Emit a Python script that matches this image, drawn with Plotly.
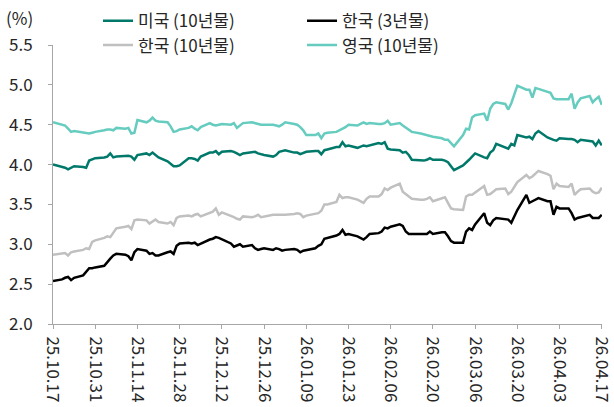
import pandas as pd
import plotly.graph_objects as go

dates = pd.bdate_range("2025-10-17", "2026-04-17")
tick_dates = pd.date_range("2025-10-17", "2026-04-17", freq="14D")

us10 = [4.00,
 3.97,3.96,3.94,3.96,3.98,
 3.97,3.96,4.05,4.07,4.08,
 4.09,4.10,4.14,4.09,4.10,
 4.11,4.11,4.10,4.06,4.12,
 4.14,4.12,4.15,4.12,4.09,
 4.04,4.01,3.98,3.98,3.99,
 4.08,4.08,4.07,4.05,4.10,
 4.15,4.15,4.17,4.13,4.16,
 4.17,4.16,4.14,4.12,4.14,
 4.16,4.16,4.14,4.13,4.12,
 4.10,4.12,4.16,4.17,4.18,
 4.15,4.15,4.13,4.15,4.16,
 4.17,4.17,4.13,4.18,4.19,
 4.22,4.22,4.28,4.23,4.24,
 4.21,4.23,4.24,4.23,4.24,
 4.27,4.26,4.28,4.20,4.19,
 4.18,4.15,4.16,4.12,4.06,
 4.05,4.05,4.06,4.08,4.06,
 4.06,4.05,4.03,3.98,3.93,
 3.99,4.02,4.06,4.10,4.14,
 4.09,4.08,4.15,4.18,4.26,
 4.21,4.20,4.26,4.24,4.37,
 4.34,4.35,4.32,4.39,4.42,
 4.34,4.32,4.31,4.30,4.33,
 4.32,4.32,4.31,4.28,4.31,
 4.30,4.29,4.24,4.30,4.24]

kr3 = [2.54,
 2.56,2.58,2.59,2.55,2.58,
 2.61,2.65,2.70,2.70,2.71,
 2.73,2.78,2.82,2.86,2.88,
 2.87,2.85,2.80,2.90,2.94,
 2.92,2.88,2.89,2.86,2.86,
 2.90,2.91,2.88,2.98,3.01,
 3.02,3.01,3.02,2.99,3.01,
 3.06,3.07,3.09,3.08,3.06,
 3.01,2.97,2.99,3.00,2.97,
 2.99,2.95,2.93,2.94,2.95,
 2.93,2.95,2.94,2.92,2.93,
 2.94,2.93,2.90,2.92,2.93,
 2.95,2.98,3.00,3.07,3.08,
 3.11,3.13,3.18,3.12,3.13,
 3.10,3.08,3.06,3.09,3.13,
 3.14,3.16,3.21,3.20,3.22,
 3.25,3.23,3.16,3.13,3.13,
 3.13,3.13,3.13,3.16,3.13,
 3.15,3.15,3.10,3.04,3.02,
 3.02,3.16,3.20,3.18,3.25,
 3.39,3.27,3.24,3.30,3.33,
 3.31,3.31,3.27,3.35,3.43,
 3.62,3.52,3.54,3.56,3.58,
 3.54,3.54,3.37,3.47,3.45,
 3.45,3.39,3.31,3.33,3.34,
 3.37,3.33,3.33,3.33,3.37]

kr10 = [2.87,
 2.88,2.89,2.86,2.90,2.91,
 2.93,2.95,2.94,3.03,3.05,
 3.08,3.10,3.09,3.15,3.20,
 3.22,3.23,3.19,3.30,3.31,
 3.30,3.26,3.28,3.31,3.28,
 3.26,3.28,3.24,3.33,3.35,
 3.36,3.35,3.37,3.38,3.35,
 3.39,3.41,3.45,3.37,3.40,
 3.36,3.34,3.32,3.31,3.35,
 3.34,3.35,3.37,3.34,3.35,
 3.37,3.37,3.37,3.37,3.37,
 3.38,3.39,3.38,3.34,3.36,
 3.38,3.39,3.42,3.50,3.50,
 3.53,3.62,3.58,3.59,3.59,
 3.56,3.54,3.52,3.57,3.60,
 3.60,3.63,3.70,3.68,3.71,
 3.76,3.66,3.63,3.60,3.57,
 3.56,3.56,3.57,3.59,3.54,
 3.58,3.59,3.52,3.45,3.44,
 3.43,3.60,3.62,3.62,3.65,
 3.73,3.62,3.63,3.66,3.69,
 3.70,3.63,3.66,3.72,3.78,
 3.87,3.83,3.85,3.89,3.92,
 3.88,3.86,3.69,3.76,3.73,
 3.72,3.76,3.62,3.66,3.69,
 3.70,3.66,3.64,3.65,3.71]

uk10 = [4.53,
 4.50,4.49,4.45,4.41,4.42,
 4.40,4.39,4.39,4.40,4.41,
 4.43,4.44,4.44,4.43,4.46,
 4.45,4.46,4.39,4.40,4.56,
 4.53,4.55,4.59,4.55,4.54,
 4.53,4.48,4.41,4.42,4.44,
 4.46,4.48,4.45,4.43,4.47,
 4.52,4.50,4.49,4.50,4.51,
 4.50,4.52,4.46,4.49,4.52,
 4.53,4.52,4.51,4.50,4.50,
 4.50,4.49,4.48,4.50,4.53,
 4.51,4.50,4.47,4.43,4.37,
 4.37,4.39,4.33,4.39,4.40,
 4.41,4.43,4.44,4.47,4.50,
 4.49,4.51,4.53,4.51,4.52,
 4.51,4.51,4.52,4.55,4.50,
 4.52,4.49,4.46,4.43,4.41,
 4.39,4.38,4.37,4.36,4.35,
 4.33,4.31,4.31,4.27,4.23,
 4.37,4.45,4.44,4.59,4.62,
 4.64,4.55,4.70,4.76,4.78,
 4.76,4.69,4.77,4.88,4.99,
 4.94,4.94,4.84,4.96,4.95,
 4.91,4.90,4.83,4.82,4.82,
 4.82,4.89,4.70,4.78,4.83,
 4.86,4.78,4.82,4.85,4.75]

series_names = ["미국 (10년물)", "한국 (3년물)", "한국 (10년물)", "영국 (10년물)"]
series_vals = [us10, kr3, kr10, uk10]
series_colors = ["#00796B", "#000000", "#C0C0C0", "#66CCBF"]
series_legend = ["legend", "legend", "legend2", "legend2"]

FONT = "Noto Sans CJK KR"
TXT = "#262626"
AX = "#A6A6A6"

fig = go.Figure()
# draw order: grey and light teal underneath
for i in [2, 3, 0, 1]:
    fig.add_trace(go.Scatter(
        x=dates, y=series_vals[i], mode="lines", name=series_names[i],
        line=dict(color=series_colors[i], width=2.5),
        legend=series_legend[i], legendrank=i,
    ))

leg_common = dict(orientation="h", xanchor="left", yanchor="middle",
                  font=dict(family=FONT, size=17, color=TXT),
                  entrywidth=159, entrywidthmode="pixels",
                  bgcolor="rgba(0,0,0,0)", borderwidth=0,
                  traceorder="normal")

fig.update_layout(
    width=614, height=407,
    margin=dict(l=53, r=12, t=45, b=83, autoexpand=False),
    paper_bgcolor="white", plot_bgcolor="white",
    font=dict(family=FONT, size=17, color=TXT),
    showlegend=True,
    legend=dict(x=0.082, y=1.085, **leg_common),
    legend2=dict(x=0.082, y=0.998, **leg_common),
    xaxis=dict(
        type="date",
        range=["2025-10-17", "2026-04-17 02:00"],
        tickmode="array", tickvals=tick_dates,
        tickformat="%y.%m.%d", tickangle=90,
        ticks="outside", ticklen=4, tickcolor=AX, tickwidth=1,
        showline=True, linecolor=AX, linewidth=1,
        showgrid=False, zeroline=False, automargin=False,
        tickfont=dict(family=FONT, size=17, color=TXT),
        ticklabelstandoff=4, ticklabeloverflow="allow",
    ),
    yaxis=dict(
        range=[2.0, 5.5], dtick=0.5, tickformat=".1f",
        ticks="outside", ticklen=4, tickcolor=AX, tickwidth=1,
        showline=True, linecolor=AX, linewidth=1,
        showgrid=False, zeroline=False, automargin=False,
        tickfont=dict(family=FONT, size=17, color=TXT),
        ticklabelstandoff=12,
    ),
    annotations=[dict(
        text="(%)", xref="paper", yref="paper", x=-0.061, y=1.1,
        xanchor="center", yanchor="middle", showarrow=False,
        font=dict(family=FONT, size=17, color=TXT),
    )],
)

fig.write_html("out.html", config={"displayModeBar": False},
               post_script="document.body.style.margin='0';")
